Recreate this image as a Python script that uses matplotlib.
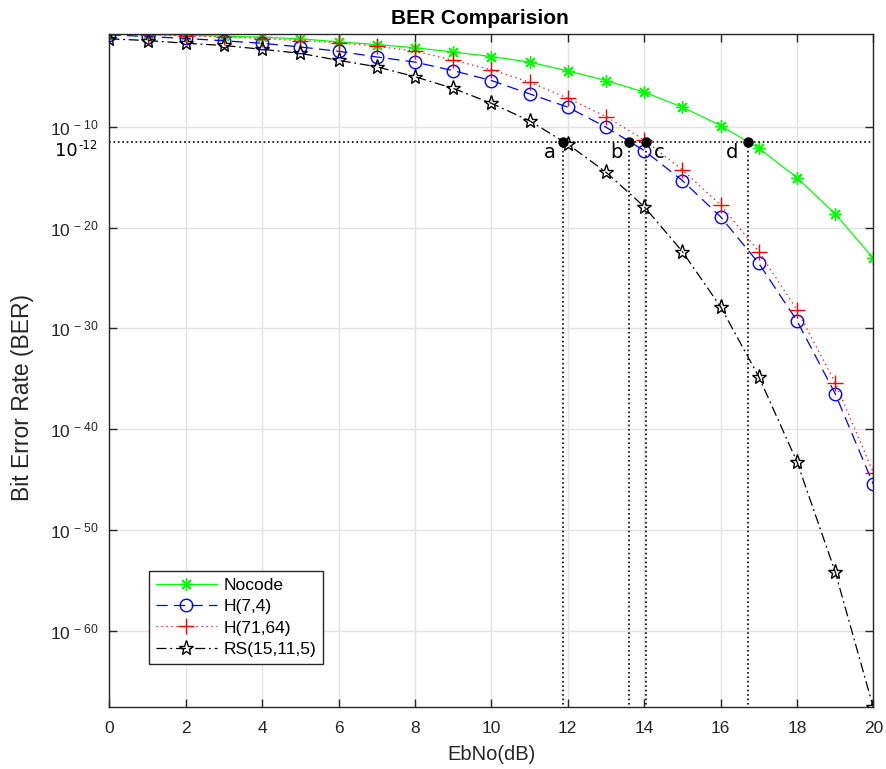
import numpy as np
import matplotlib
matplotlib.use('Agg')
import matplotlib.pyplot as plt
from matplotlib.ticker import FixedLocator, FuncFormatter

plt.rcParams['font.family'] = ['Liberation Sans', 'DejaVu Sans']
plt.rcParams['mathtext.fontset'] = 'custom'
plt.rcParams['mathtext.rm'] = 'Liberation Sans'

# data
ebno = np.arange(0, 21)
nocode = [1.66e-1, 1.48e-1, 1.26e-1, 1.02e-1, 7.9e-2, 5.5e-2, 2.75e-2, 1.48e-2, 7.1e-3, 2.7e-3,
          9.5e-4, 2.7e-4, 3.6e-5, 4.0e-6, 2.8e-7, 9.1e-9, 1.35e-10, 7.6e-13, 9.1e-16, 2.3e-19, 9.1e-24]
h74 = [1.38e-1, 9.3e-2, 6.0e-2, 3.5e-2, 2.0e-2, 8.5e-3, 3.2e-3, 8.7e-4, 2.7e-4, 3.8e-5,
       4.0e-6, 1.9e-7, 9.1e-9, 9.3e-11, 4.5e-13, 4.7e-16, 1.2e-19, 2.9e-24, 5.8e-30, 3.3e-37, 3.3e-46]
h7164 = [1.58e-1, 1.38e-1, 1.12e-1, 8.3e-2, 5.9e-2, 3.7e-2, 2.2e-2, 1.02e-2, 3.3e-3, 4.2e-4,
         4.6e-5, 2.75e-6, 7.1e-8, 1.05e-9, 5.1e-12, 5.4e-15, 1.8e-18, 4.2e-23, 6.8e-29, 4.1e-36, 4.7e-45]
rs = [5.5e-2, 3.7e-2, 2.0e-2, 1.2e-2, 5.0e-3, 2.0e-3, 4.0e-4, 9.3e-5, 9.5e-6, 6.6e-7,
      2.2e-8, 4.0e-10, 1.9e-12, 3.2e-15, 1.2e-18, 4.2e-23, 1.4e-28, 1.6e-35, 5.8e-44, 6.9e-55, 2.3e-68]

ref_ber = 3.5e-12
cross_x = [11.87, 13.6, 14.06, 16.71]
cross_lab = ['a', 'b', 'c', 'd']
lab_off = [(-9, -8), (-9, -8), (9, -8), (-11.5, -8)]

ytick_exp = [-60, -50, -40, -30, -20, -10]

fig = plt.figure(figsize=(8.86, 7.69), dpi=100)
ax = fig.add_axes([0.1235, 0.08, 0.8622, 0.8758])

ax.plot(ebno, nocode, color='#00ff00', lw=0.9, marker=(8, 2, 0), ms=9, mew=1.0, label='Nocode')
ax.plot(ebno, h74, color='#0000ff', lw=0.9, dashes=(9, 5), marker='o', ms=9, mfc='none', mew=1.0,
        label='H(7,4)')
ax.plot(ebno, h7164, color='#ff0000', lw=0.9, dashes=(1, 3), marker='+', ms=11, mew=1.0,
        label='H(71,64)')
ax.plot(ebno, rs, color='black', lw=0.9, dashes=(8, 3, 1.5, 3), marker='*', ms=11, mfc='none',
        mew=1.0, label='RS(15,11,5)')

# reference level + crossing points
ax.plot([0, 20], [ref_ber, ref_ber], color='black', ls=':', lw=1.2)
for xc, lab, off in zip(cross_x, cross_lab, lab_off):
    ax.plot([xc, xc], [ref_ber, 1e-70], color='black', ls=':', lw=1.2)
    ax.plot(xc, ref_ber, 'o', color='black', ms=6.5)
    ax.annotate(lab, (xc, ref_ber), xytext=off, textcoords='offset points', ha='center', va='center',
                fontsize=14, family='DejaVu Sans')
ax.text(-0.82, 4e-13, '10', ha='right', va='center', fontsize=13, family='DejaVu Sans',
        clip_on=False)
ax.annotate('-12', (-0.82, 4e-13), xytext=(0.3, 4), textcoords='offset points', ha='left',
            va='center', fontsize=8.5, family='DejaVu Sans', annotation_clip=False)

ax.set_yscale('log')
ax.set_xlim(0, 20)
ax.set_ylim(min(rs), max(nocode))
ax.set_xticks(np.arange(0, 21, 2))
ax.yaxis.set_major_locator(FixedLocator([10.0 ** e for e in ytick_exp]))
ax.yaxis.set_minor_locator(FixedLocator([]))
ax.yaxis.set_major_formatter(FuncFormatter(lambda v, p: r'$\mathrm{10^{\,%d}}$' % round(np.log10(v))))

ax.grid(True, color='#e3e3e3', lw=1)
ax.set_axisbelow(True)
for s in ax.spines.values():
    s.set_color('#262626')
    s.set_linewidth(1)
ax.tick_params(direction='in', top=True, right=True, length=6, width=1, colors='#262626',
               labelsize=12.5)
ax.tick_params(axis='x', pad=10)
ax.tick_params(axis='y', pad=8)

ax.set_title('BER Comparision', fontsize=15, fontweight='bold', x=0.485, pad=7)
ax.set_xlabel('EbNo(dB)', fontsize=14.5, color='#262626')
ax.xaxis.set_label_coords(0.5, -0.055)
ax.set_ylabel('Bit Error Rate (BER)', fontsize=16.5, color='#262626')
ax.yaxis.set_label_coords(-0.099, 0.46)

leg = ax.legend(loc='lower left', bbox_to_anchor=(0.052, 0.065), borderaxespad=0, fontsize=12.5,
                handlelength=3.5, labelspacing=0.35, fancybox=False, framealpha=1,
                edgecolor='#262626', borderpad=0.4, handletextpad=0.4)
leg.get_frame().set_linewidth(1)

fig.savefig('out.png', dpi=100)
